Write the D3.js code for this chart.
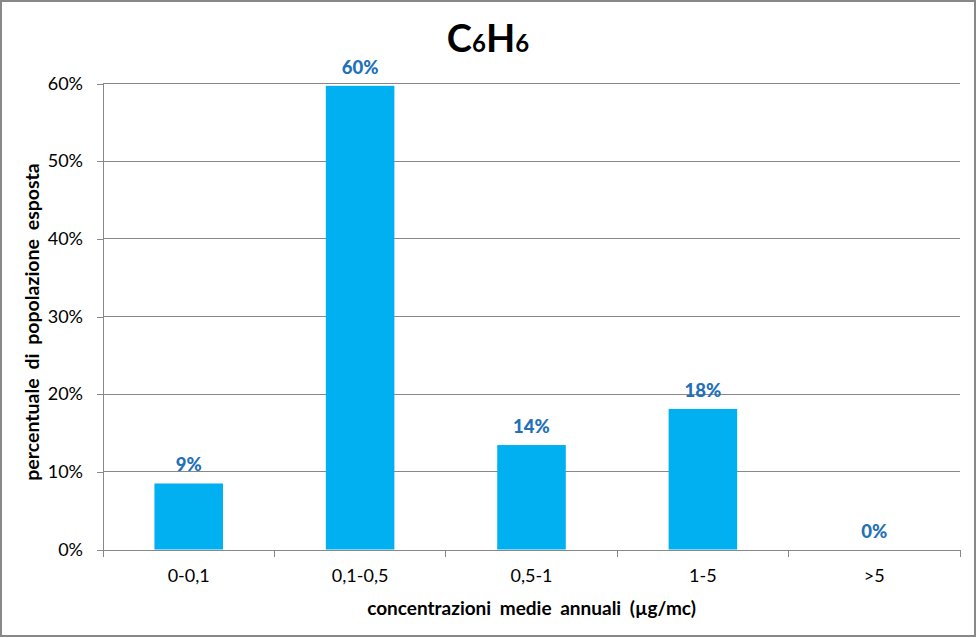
<!DOCTYPE html>
<html><head><meta charset="utf-8">
<script src="https://cdn.jsdelivr.net/npm/d3@7"></script>
<style>
html,body{margin:0;padding:0;background:#fff;}
svg{display:block;font-family:Lato, "Open Sans", sans-serif;}
</style></head>
<body>
<svg id="chart" width="977" height="638"></svg>
<script>
const categories = ["0-0,1", "0,1-0,5", "0,5-1", "1-5", ">5"];
const values = [8.5, 59.7, 13.45, 18.1, 0];
const labels = ["9%", "60%", "14%", "18%", "0%"];
const yTicks = [0, 10, 20, 30, 40, 50, 60];

const svg = d3.select("#chart");
const W = 977, H = 638;
const m = {left: 103, right: 17, top: 83.5, bottom: 88.5};

svg.append("rect").attr("x", 1).attr("y", 1).attr("width", W - 3).attr("height", H - 3)
  .attr("fill", "#fff").attr("stroke", "#888").attr("stroke-width", 2);

const x = d3.scaleBand().domain(categories).range([m.left, W - m.right]).padding(0);
const y = d3.scaleLinear().domain([0, 60]).range([H - m.bottom, m.top]);

// gridlines
svg.append("g").selectAll("line").data(yTicks.filter(d => d > 0)).join("line")
  .attr("x1", m.left).attr("x2", W - m.right)
  .attr("y1", d => y(d)).attr("y2", d => y(d))
  .attr("stroke", "#888").attr("stroke-width", 1).attr("shape-rendering", "crispEdges");

// y axis
const yAxis = svg.append("g").attr("transform", `translate(${m.left},0)`)
  .call(d3.axisLeft(y).tickValues(yTicks).tickFormat(d => d + "%").tickSize(6).tickPadding(8));
yAxis.select(".domain").attr("stroke", "#888").attr("shape-rendering", "crispEdges");
yAxis.selectAll(".tick line").attr("stroke", "#888").attr("shape-rendering", "crispEdges");
yAxis.selectAll("text").attr("font-size", 18).attr("fill", "#000")
  .attr("font-family", "Lato, sans-serif").attr("dx", -6);

// bars
const bw = x.bandwidth() * 0.4;
svg.append("g").selectAll("rect").data(values).join("rect")
  .attr("x", (d, i) => x(categories[i]) + x.bandwidth() / 2 - bw / 2)
  .attr("y", d => y(d))
  .attr("width", bw)
  .attr("height", d => y(0) - y(d))
  .attr("fill", "#00B0F0");

// x axis
const xAxis = svg.append("g").attr("transform", `translate(0,${y(0)})`)
  .call(d3.axisBottom(x).tickSize(0).tickPadding(20));
xAxis.select(".domain").attr("stroke", "#888").attr("shape-rendering", "crispEdges");
xAxis.selectAll("text").attr("font-size", 18).attr("fill", "#000").attr("font-family", "Lato, sans-serif");
// category boundary ticks
const bounds = categories.map(c => x(c)).concat([W - m.right]);
xAxis.append("g").selectAll("line").data(bounds).join("line")
  .attr("x1", d => d).attr("x2", d => d).attr("y1", 0).attr("y2", 7)
  .attr("stroke", "#888").attr("shape-rendering", "crispEdges");

// data labels
svg.append("g").selectAll("text").data(values).join("text")
  .attr("x", (d, i) => x(categories[i]) + x.bandwidth() / 2)
  .attr("y", d => y(d) - 12)
  .attr("text-anchor", "middle")
  .attr("font-size", 18.5).attr("font-weight", "900").attr("fill", "#2270B8")
  .text((d, i) => labels[i]);

// title C6H6
const title = svg.append("text").attr("x", 488).attr("y", 52)
  .attr("text-anchor", "middle").attr("font-weight", "bold").attr("fill", "#000")
  .attr("font-size", 38);
title.append("tspan").text("C");
title.append("tspan").attr("font-size", 24).text("6");
title.append("tspan").text("H");
title.append("tspan").attr("font-size", 24).text("6");

// axis titles
svg.append("text").attr("x", (m.left + W - m.right) / 2).attr("y", 615)
  .attr("text-anchor", "middle").attr("font-size", 19).attr("font-weight", "bold")
  .attr("word-spacing", 4).text("concentrazioni medie annuali (µg/mc)");

svg.append("text").attr("transform", "translate(39,322) rotate(-90)")
  .attr("text-anchor", "middle").attr("font-size", 19.5).attr("font-weight", "bold")
  .attr("word-spacing", 4).text("percentuale di popolazione esposta");
</script>
</body></html>
